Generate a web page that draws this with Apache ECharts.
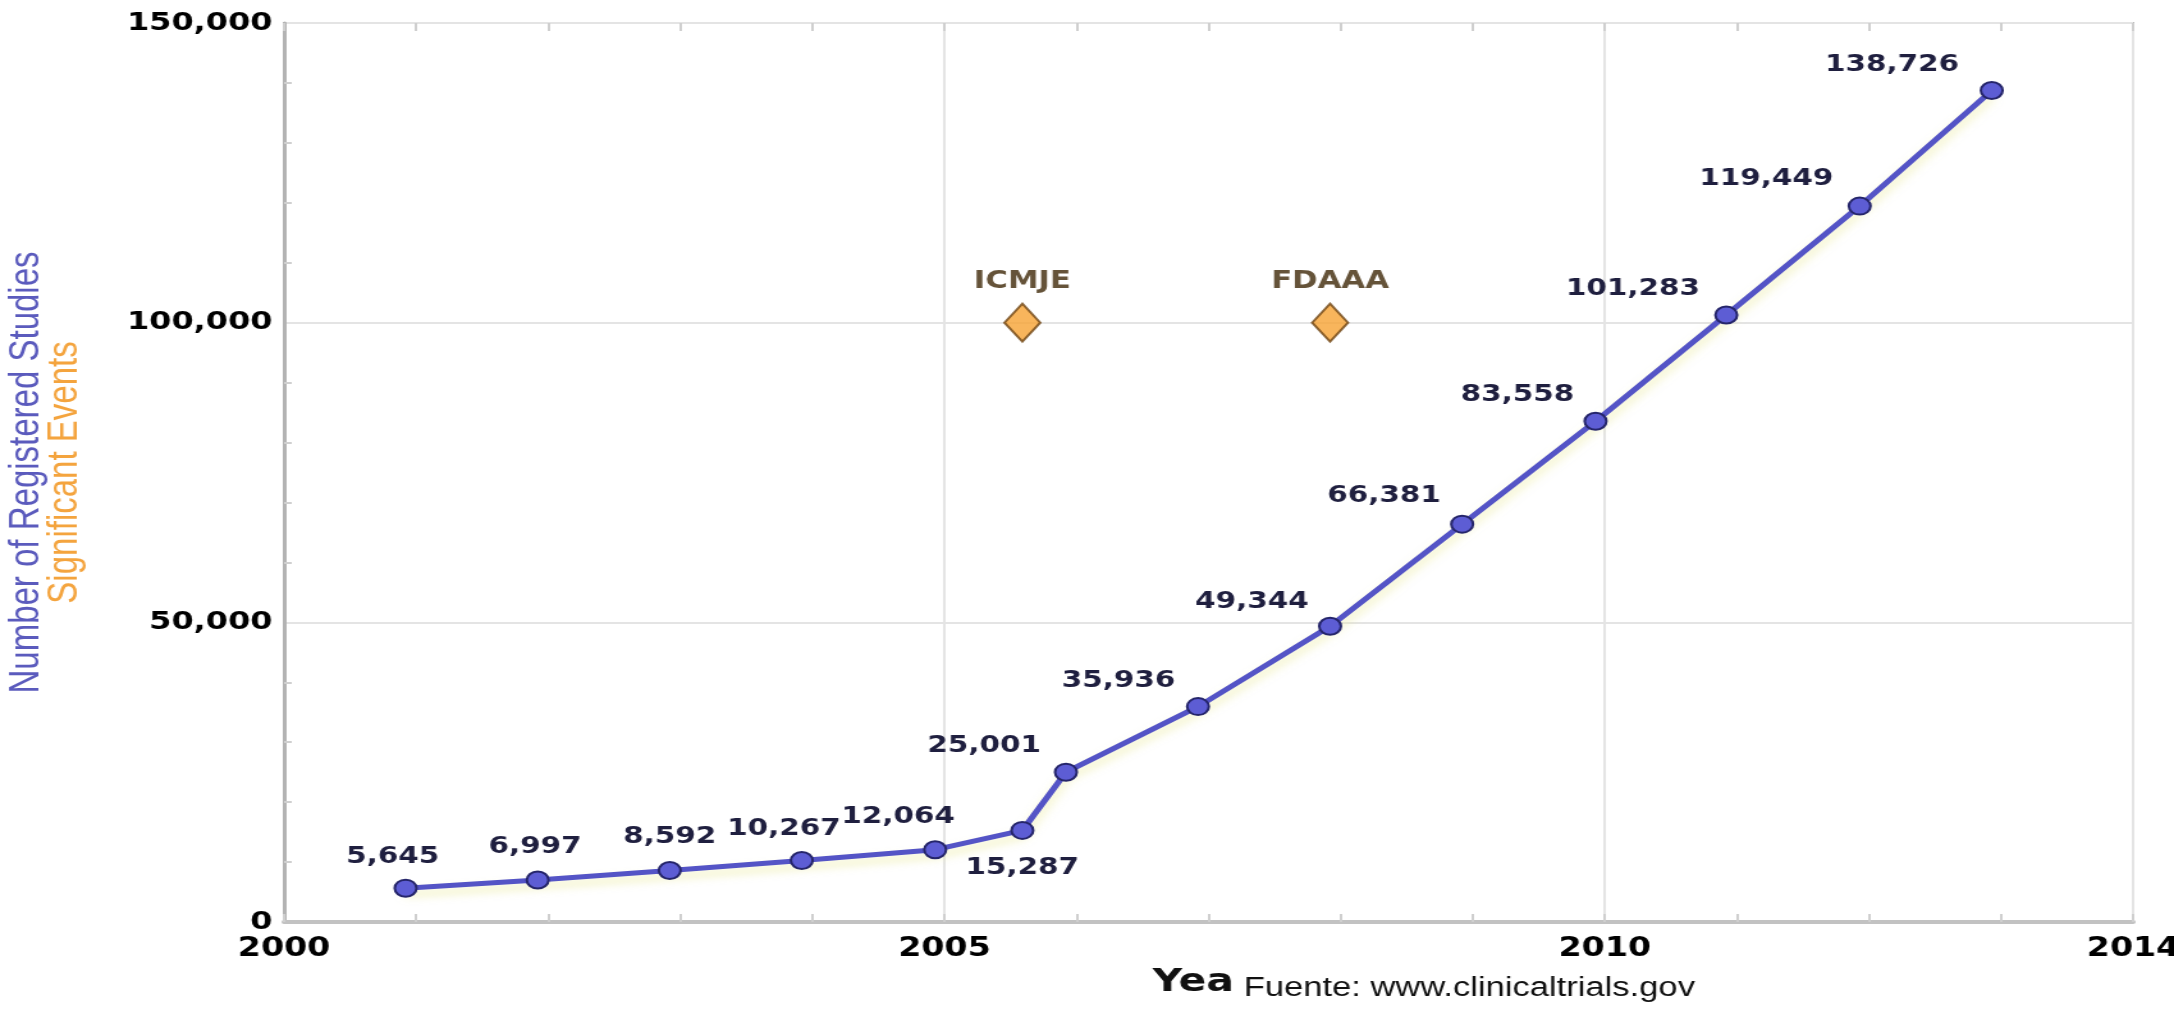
<!DOCTYPE html>
<html>
<head>
<meta charset="utf-8">
<title>Number of Registered Studies</title>
<script src="https://cdn.jsdelivr.net/npm/echarts@6/dist/echarts.min.js"></script>
<style>
  html, body { margin: 0; padding: 0; background: #ffffff; overflow: hidden; }
  /* the chart is laid out narrower and stretched horizontally, like the original slide */
  #chart { width: 1699px; height: 1012px; transform: scaleX(1.27958); transform-origin: 0 0; }
</style>
</head>
<body>
<div id="chart"></div>
<script>
// Registered studies (ClinicalTrials.gov), x = fractional year of each snapshot
const snapshotYears = [2000.92, 2001.92, 2002.92, 2003.92, 2004.93, 2005.59, 2005.92,
                       2006.92, 2007.92, 2008.92, 2009.93, 2010.92, 2011.93, 2012.93];
const registeredStudies = [5645, 6997, 8592, 10267, 12064, 15287, 25001,
                           35936, 49344, 66381, 83558, 101283, 119449, 138726];

// Significant events, shown as diamonds
const eventNames = ['ICMJE', 'FDAAA'];
const eventYears = [2005.59, 2007.92];
const eventLevels = [100000, 100000];

// Axis ranges and tick steps
const xRange = [2000, 2014];
const xStep = 5;
const yRange = [0, 150000];
const yStep = 50000;

// Label placement for each study point: [dx, dy] from the marker centre
const labelNudge = [[-10, -31], [-2, -33], [0, -33], [-14, -31], [-29, -33], [0, 38], [-64, -26],
                    [-62, -26], [-61, -24], [-61, -28], [-61, -26], [-73, -26], [-73, -27], [-78, -26]];

const fmt = v => Number(v).toLocaleString('en-US');
const boldFont = "'DejaVu Sans', Verdana, sans-serif";
const sansFont = "'Liberation Sans', Arial, sans-serif";

const studyData = snapshotYears.map((x, i) => ({
  value: [x, registeredStudies[i]],
  label: { offset: labelNudge[i] }
}));
const eventData = eventYears.map((x, i) => ({ value: [x, eventLevels[i]], name: eventNames[i] }));

// Hidden helper axes carrying the yearly tick marks (bottom and top edges)
const yearTickAxis = pos => ({
  type: 'value', position: pos, min: xRange[0], max: xRange[1], interval: 1,
  axisLine: { show: false }, axisLabel: { show: false }, splitLine: { show: false },
  axisTick: { show: true, inside: true, length: 8, lineStyle: { color: '#cfcfcf', width: 2 } }
});

const chart = echarts.init(document.getElementById('chart'), null, { renderer: 'canvas' });
chart.setOption({
  backgroundColor: '#ffffff',
  animation: false,
  grid: {
    left: 222, right: 32, top: 23, bottom: 90,
    containLabel: false, outerBoundsMode: 'none',
    show: true, backgroundColor: '#ffffff', borderColor: '#b9b9b9', borderWidth: 2
  },
  xAxis: [
    {
      type: 'value', position: 'bottom', min: xRange[0], max: xRange[1], interval: xStep,
      name: 'Year', nameLocation: 'middle', nameGap: 45,
      nameTextStyle: { fontFamily: boldFont, fontWeight: 'bold', fontSize: 32, color: '#111111', padding: [0, 8, 0, 0] },
      axisLine: { show: true, lineStyle: { color: '#c2c2c2', width: 4 } },
      axisTick: { show: false },
      axisLabel: { show: true, margin: 14, fontFamily: boldFont, fontWeight: 'bold', fontSize: 26, color: '#000000',
                   formatter: v => String(v) },
      splitLine: { show: true, lineStyle: { color: '#e4e4e4', width: 2 } }
    },
    yearTickAxis('bottom'),
    yearTickAxis('top')
  ],
  yAxis: {
    type: 'value', min: yRange[0], max: yRange[1], interval: yStep,
    name: '{a|Number of Registered Studies}\n{b|Significant Events}',
    nameLocation: 'middle', nameGap: 156,
    nameTextStyle: {
      rich: {
        a: { fontFamily: sansFont, fontSize: 33, lineHeight: 30, color: '#5b5bbd' },
        b: { fontFamily: sansFont, fontSize: 33, lineHeight: 30, color: '#f4a43e' }
      }
    },
    axisLine: { show: true, lineStyle: { color: '#b3b3b3', width: 3 } },
    axisTick: { show: false, inside: true },
    minorTick: { show: true, splitNumber: 5, length: 6, lineStyle: { color: '#d0d0d0', width: 2 } },
    axisLabel: { margin: 9, fontFamily: boldFont, fontWeight: 'bold', fontSize: 25, color: '#000000', formatter: fmt },
    splitLine: { show: true, lineStyle: { color: '#e4e4e4', width: 2 } }
  },
  series: [
    {
      name: 'Number of Registered Studies',
      type: 'line',
      xAxisIndex: 0,
      data: studyData,
      symbol: 'circle',
      symbolSize: 17,
      z: 3,
      lineStyle: { color: '#5454c6', width: 5, shadowColor: 'rgba(235,235,160,0.7)', shadowBlur: 8, shadowOffsetY: 6 },
      itemStyle: { color: '#5d5dd4', borderColor: '#25256a', borderWidth: 2 },
      label: {
        show: true, position: 'inside', align: 'center', verticalAlign: 'middle',
        fontFamily: boldFont, fontWeight: 'bold', fontSize: 23, color: '#1f1f3f',
        formatter: p => fmt(p.value[1])
      }
    },
    {
      name: 'Significant Events',
      type: 'scatter',
      xAxisIndex: 0,
      data: eventData,
      symbol: 'diamond',
      symbolSize: [28, 38],
      z: 4,
      itemStyle: { color: '#f6a233', borderColor: '#6e4312', borderWidth: 2 },
      label: {
        show: true, position: 'inside', offset: [0, -41], align: 'center', verticalAlign: 'middle',
        fontFamily: boldFont, fontWeight: 'bold', fontSize: 24, color: '#3e2808',
        formatter: p => p.name
      }
    }
  ],
  graphic: [
    {
      type: 'text', z: 100, left: 962, top: 963,
      style: {
        text: 'Fuente: www.clinicaltrials.gov',
        font: "27px 'Liberation Sans', Arial, sans-serif",
        fill: '#111111',
        backgroundColor: '#ffffff',
        padding: [12, 2, 2, 10]
      }
    }
  ]
});
</script>
</body>
</html>
